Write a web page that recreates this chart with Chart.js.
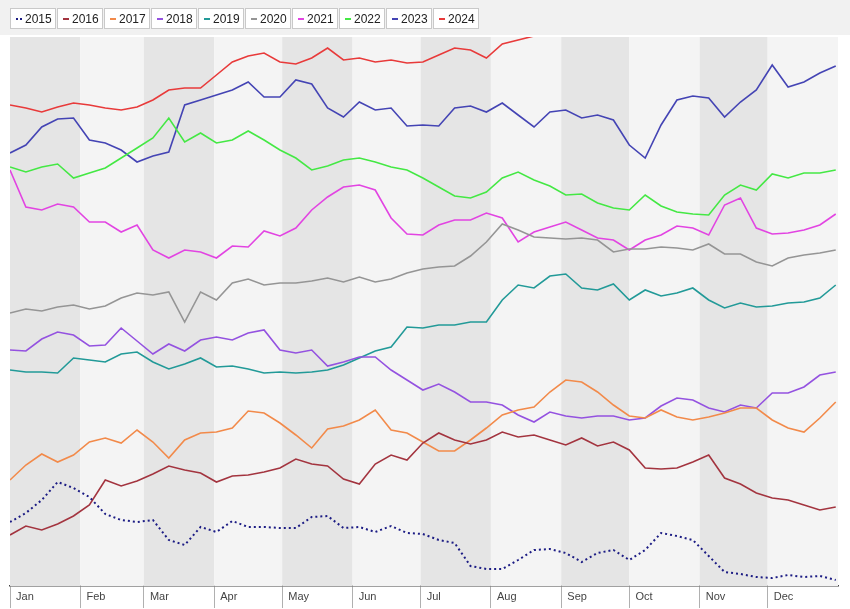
<!DOCTYPE html>
<html>
<head>
<meta charset="utf-8">
<script src="https://cdn.jsdelivr.net/npm/chart.js@4.4.1/dist/chart.umd.min.js"></script>
<style>
  html, body { margin: 0; padding: 0; background: #fff; }
  #wrap { position: relative; width: 850px; height: 609px; }
  #strip { position: absolute; left: 0; top: 0; width: 850px; height: 35px; background: #f1f1f1; }
  #legend { position: absolute; left: 10px; top: 8px; display: flex; }
  .item { box-sizing: border-box; width: 46px; height: 21px; margin-right: 1px; border: 1px solid #c9c9c9; background: #fff;
          font: 12px "Liberation Sans", Arial, sans-serif; color: #222; display: flex; align-items: center; padding-left: 5px; }
  .mk { display: inline-block; width: 6px; height: 2px; margin-right: 3px; }
  .dots { display: inline-block; width: 7px; height: 2px; margin-right: 2px; }
  canvas { position: absolute; left: 0; top: 0; }
</style>
</head>
<body>
<div id="wrap">
  <div id="strip"></div>
  <canvas id="seasonChart" width="850" height="609"></canvas>
  <div id="legend"></div>
</div>
<script>
// day of year for each sample (weekly)
const days = [0,7,14,21,28,35,42,49,56,63,70,77,84,91,98,105,112,119,126,133,140,147,154,161,168,175,182,189,196,203,210,217,224,231,238,245,252,259,266,273,280,287,294,301,308,315,322,329,336,343,350,357,364];

const monthStarts = [0,31,59,90,120,151,181,212,243,273,304,334,365];
const monthNames = ['Jan','Feb','Mar','Apr','May','Jun','Jul','Aug','Sep','Oct','Nov','Dec'];

const years = ['2015','2016','2017','2018','2019','2020','2021','2022','2023','2024'];

// seasonal levels (rank scale, lower number = higher on chart)
const y2015 = [522,513,500,482,488,497,514,520,522,520,540,545,527,532,521,527,527,528,528,517,516,528,527,532,526,533,534,540,543,566,569,569,560,550,549,553,562,553,550,560,550,533,536,540,556,572,574,577,578,575,577,576,580];
const y2016 = [535,526,530,524,516,505,480,486,481,474,466,470,473,482,476,475,472,468,459,464,466,479,484,464,455,460,443,433,440,444,440,432,437,435,440,445,438,446,442,450,468,469,468,462,455,478,484,493,498,500,505,510,507];
const y2017 = [480,465,454,462,455,442,438,443,430,442,458,440,433,432,428,411,413,423,435,448,429,426,420,410,430,433,442,451,451,440,428,415,410,407,392,380,382,392,405,416,418,410,417,420,417,413,408,408,420,428,432,418,402];
const y2018 = [350,351,339,332,335,346,345,328,341,354,344,351,340,337,340,333,330,350,353,350,366,362,357,357,370,380,390,384,392,402,402,405,415,422,412,416,418,416,416,420,418,406,398,400,408,412,405,408,393,393,387,375,372];
const y2019 = [370,372,372,373,358,360,362,354,352,362,369,364,358,367,366,369,373,372,373,372,370,365,358,351,347,327,328,325,325,322,322,300,285,288,276,274,288,290,284,300,290,296,293,288,300,308,303,307,306,303,302,298,285];
const y2020 = [313,309,311,307,305,309,306,298,293,295,292,322,292,300,283,279,285,283,283,281,278,282,277,282,279,273,269,267,266,256,242,224,230,237,238,239,238,240,252,249,249,247,248,250,244,254,254,262,266,258,255,253,250];
const y2021 = [170,207,210,204,207,222,222,232,225,250,258,250,252,258,246,247,231,236,228,210,197,187,185,190,218,234,235,225,220,220,213,218,242,232,227,222,230,238,240,250,240,235,226,228,235,205,198,228,234,233,230,225,214];
const y2022 = [167,172,167,164,178,173,168,158,148,138,118,142,133,143,140,131,140,150,158,170,166,160,158,162,167,170,178,187,196,198,192,178,172,180,186,195,194,203,208,210,195,206,212,214,215,195,185,190,174,178,173,173,170];
const y2023 = [153,145,127,119,118,140,143,150,162,156,152,105,100,95,90,82,97,97,80,84,108,117,102,110,108,126,125,126,108,106,112,103,115,127,112,110,118,115,120,145,158,125,100,96,98,117,102,90,65,87,82,73,66];
const y2024 = [105,108,112,107,103,105,108,110,107,100,90,88,88,75,62,56,53,62,64,58,48,60,58,62,60,63,62,55,48,50,58,44,40,36];

const seriesValues = [y2015, y2016, y2017, y2018, y2019, y2020, y2021, y2022, y2023, y2024];
const colors = ['#1c1c84','#a3343f','#f28a4a','#9452e0','#229a98','#959595','#e244e2','#44e844','#4444b4','#e83a3a'];

// alternating month bands behind the lines
const monthBands = {
    id: 'monthBands',
    beforeDatasetsDraw(chart) {
        const {ctx, chartArea, scales: {x}} = chart;
        ctx.save();
        for (let i = 0; i < 12; i++) {
            const x0 = x.getPixelForValue(monthStarts[i]);
            const x1 = x.getPixelForValue(monthStarts[i + 1]);
            ctx.fillStyle = i % 2 === 0 ? '#e5e5e5' : '#f4f4f4';
            ctx.fillRect(x0, chartArea.top, x1 - x0, chartArea.bottom - chartArea.top);
        }
        ctx.restore();
    }
};

const datasets = years.map((yr, i) => ({
    label: yr,
    data: seriesValues[i].map((v, j) => ({x: days[j], y: v})),
    borderColor: colors[i],
    borderWidth: i === 0 ? 2 : 1.6,
    borderDash: i === 0 ? [2, 3] : [],
    pointRadius: 0,
    tension: 0,
    fill: false
}));

const seasonChart = new Chart(document.getElementById('seasonChart'), {
    type: 'line',
    data: {datasets: datasets},
    plugins: [monthBands],
    options: {
        responsive: false,
        animation: false,
        layout: {padding: {left: 10, right: 12, top: 37, bottom: 0}},
        plugins: {legend: {display: false}, tooltip: {enabled: false}},
        scales: {
            x: {
                type: 'linear',
                min: 0,
                max: 365,
                afterBuildTicks: (scale) => { scale.ticks = monthStarts.slice(0, 12).map(v => ({value: v})); },
                afterFit: (scale) => { scale.height = 23; },
                grid: {drawOnChartArea: false, drawTicks: true, tickLength: 22, color: '#b0b0b0'},
                border: {display: true, color: '#444', width: 1.5},
                ticks: {
                    autoSkip: false,
                    maxRotation: 0,
                    align: 'start',
                    padding: -18,
                    color: '#444',
                    font: {family: '"Liberation Sans", Arial, sans-serif', size: 11},
                    callback: (v, idx) => '  ' + monthNames[idx]
                }
            },
            y: {
                display: false,
                reverse: true,
                min: 37,
                max: 586
            }
        }
    }
});

// legend boxes along the top
const legendEl = document.getElementById('legend');
years.forEach((yr, i) => {
    const item = document.createElement('div');
    item.className = 'item';
    const mk = document.createElement('span');
    if (i === 0) {
        mk.className = 'dots';
        mk.style.background = 'repeating-linear-gradient(90deg,' + colors[i] + ' 0 2px, transparent 2px 4px)';
    } else {
        mk.className = 'mk';
        mk.style.background = colors[i];
    }
    item.appendChild(mk);
    item.appendChild(document.createTextNode(yr));
    legendEl.appendChild(item);
});
</script>
</body>
</html>
